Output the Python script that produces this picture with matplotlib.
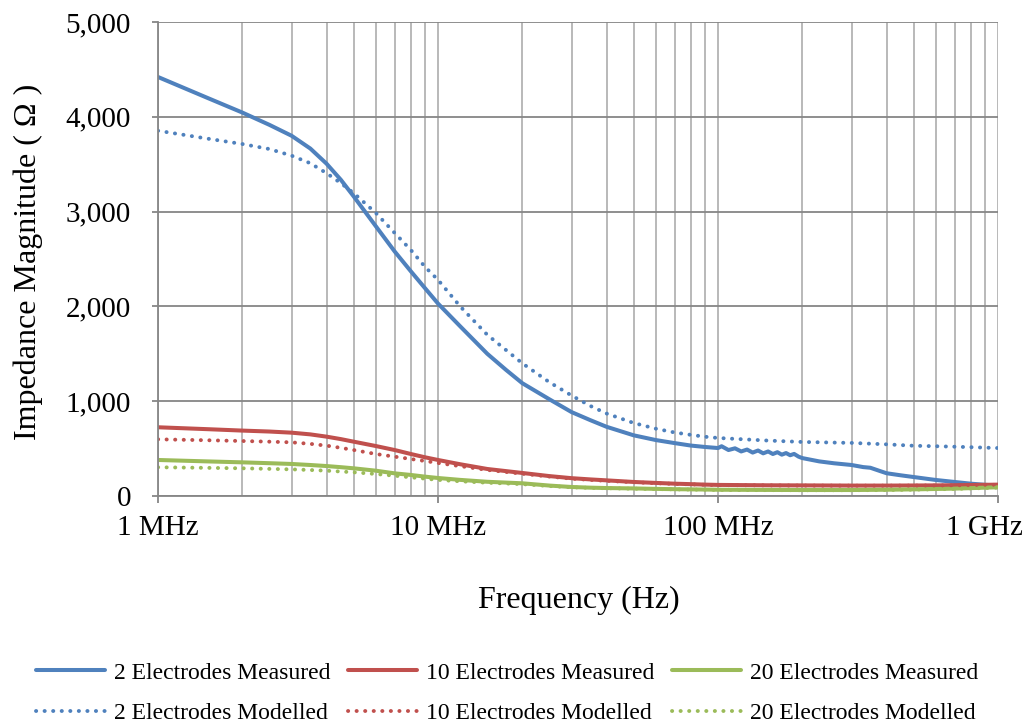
import matplotlib
matplotlib.use("Agg")
import matplotlib.pyplot as plt
from matplotlib.ticker import FuncFormatter, FixedLocator, NullFormatter
from matplotlib.transforms import ScaledTranslation

plt.rcParams['font.family'] = ['Liberation Serif', 'DejaVu Serif']

# frequency grid (MHz) shared by the smooth curves
freq = [1, 1.5, 2, 2.5, 3, 3.5, 4, 4.5, 5, 6, 7, 8, 9, 10, 12, 15, 20, 25, 30, 35,
        40, 50, 60, 70, 80, 90, 100, 150, 200, 300, 400, 500, 600, 700, 800, 900, 1000]

# 2 electrodes measured has a ripple above 100 MHz, so it gets its own grid
freq_2m = [1, 1.5, 2, 2.5, 3, 3.5, 4, 4.5, 5, 6, 7, 8, 9, 10, 12, 15, 17.5, 20, 25, 30, 35,
           40, 50, 60, 70, 80, 90, 100, 103, 109, 115, 121, 127, 133, 139, 145, 151,
           157, 163, 169, 175, 181, 187, 194, 200, 230, 260, 300, 330, 350, 380, 400,
           450, 500, 600, 700, 800, 900, 1000]
z_2_meas = [4420, 4200, 4045, 3915, 3800, 3665, 3505, 3335, 3160, 2845, 2580, 2370, 2190, 2030,
            1790, 1500, 1330, 1190, 1020, 885, 800, 730, 640, 590, 558, 532, 517, 506, 525, 485,
            503, 470, 490, 458, 480, 450, 470, 443, 462, 436, 453, 430, 444, 415, 400, 365,
            345, 327, 305, 298, 262, 240, 218, 200, 169, 148, 130, 118, 110]

z_2_model = [3853, 3770, 3713, 3660, 3590, 3510, 3405, 3300, 3195, 2985, 2775, 2595, 2415, 2280,
             2000, 1700, 1400, 1200, 1060, 950, 870, 770, 710, 670, 645, 625, 612, 585, 570,
             560, 545, 530, 525, 520, 515, 510, 506]

z_10_meas = [725, 705, 690, 680, 668, 650, 626, 600, 573, 527, 485, 443, 408, 380,
             335, 285, 243, 210, 188, 175, 165, 148, 138, 130, 125, 120, 117, 113, 112,
             110, 110, 111, 112, 114, 116, 118, 120]

z_10_model = [598, 588, 580, 573, 566, 550, 531, 508, 485, 443, 415, 390, 369, 348,
              315, 275, 235, 205, 183, 170, 160, 145, 135, 128, 123, 118, 115, 112, 110,
              109, 109, 110, 111, 113, 115, 117, 118]

z_20_meas = [380, 365, 355, 346, 338, 327, 316, 304, 292, 267, 239, 222, 204, 190,
             170, 150, 134, 110, 95, 88, 84, 80, 75, 72, 70, 68, 66, 64, 63,
             63, 66, 70, 74, 78, 83, 88, 92]

z_20_model = [303, 297, 292, 286, 281, 274, 267, 258, 250, 232, 214, 197, 183, 170,
              155, 140, 125, 105, 92, 86, 82, 77, 73, 70, 68, 66, 64, 62, 61,
              61, 63, 67, 71, 75, 80, 84, 88]

blue = '#4F81BD'
red = '#C0504D'
green = '#9BBB59'
dotted = (0, (0.05, 2.15))

fig = plt.figure(figsize=(10.3, 7.28), dpi=100)
ax = fig.add_axes([158 / 1030, 1 - 496 / 728, 840 / 1030, 474 / 728])

hz = lambda f: [v * 1e6 for v in f]

l1, = ax.plot(hz(freq_2m), z_2_meas, color=blue, lw=2.9, solid_capstyle='round', solid_joinstyle='round')
l3, = ax.plot(hz(freq), z_10_meas, color=red, lw=2.9, solid_capstyle='round', solid_joinstyle='round')
l5, = ax.plot(hz(freq), z_20_meas, color=green, lw=2.9, solid_capstyle='round', solid_joinstyle='round')
l2, = ax.plot(hz(freq), z_2_model, color=blue, lw=2.8, ls=dotted, dash_capstyle='round')
l4, = ax.plot(hz(freq), z_10_model, color=red, lw=2.8, ls=dotted, dash_capstyle='round')
l6, = ax.plot(hz(freq), z_20_model, color=green, lw=2.8, ls=dotted, dash_capstyle='round')

ax.set_xscale('log')
ax.set_xlim(1e6, 1e9)
ax.set_ylim(0, 5000)

ax.set_xticks([1e6, 1e7, 1e8, 1e9])
ax.set_xticklabels(['1 MHz', '10 MHz', '100 MHz', '1 GHz'])
minors = [m * 10 ** d for d in range(6, 9) for m in range(2, 10)]
ax.xaxis.set_minor_locator(FixedLocator(minors))
ax.xaxis.set_minor_formatter(NullFormatter())
ax.set_yticks(range(0, 5001, 1000))
ax.yaxis.set_major_formatter(FuncFormatter(lambda v, p: f'{int(v):,}'))

ax.set_axisbelow(True)
ax.grid(which='major', axis='y', color='#868686', lw=1.3)
ax.grid(which='both', axis='x', color='#b3b3b3', lw=1.3)

for side in ['top', 'right']:
    ax.spines[side].set_visible(False)
for side in ['left', 'bottom']:
    ax.spines[side].set_color('#868686')
    ax.spines[side].set_linewidth(1.3)

ax.tick_params(axis='y', which='major', direction='out', length=4.5, width=1.3,
               color='#868686', labelsize=21, pad=15)
ax.tick_params(axis='x', which='major', direction='out', length=5, width=1.3,
               color='#868686', labelsize=21, pad=9)
ax.tick_params(axis='x', which='minor', length=0)

# keep the last frequency label inside the figure
last = ax.get_xticklabels()[-1]
last.set_transform(last.get_transform() + ScaledTranslation(-0.14, 0, fig.dpi_scale_trans))

ax.set_xlabel('Frequency (Hz)', fontsize=23)
ax.xaxis.set_label_coords(0.501, -0.19)
ax.set_ylabel('Impedance Magnitude ( Ω )', fontsize=23)
ax.yaxis.set_label_coords(-0.137, 0.494)

fig.legend([l1, l2, l3, l4, l5, l6],
           ['2 Electrodes Measured', '2 Electrodes Modelled',
            '10 Electrodes Measured', '10 Electrodes Modelled',
            '20 Electrodes Measured', '20 Electrodes Modelled'],
           ncol=3, loc='center', bbox_to_anchor=(0.492, 0.048), frameon=False,
           fontsize=17, handlelength=2.95, handletextpad=0.35, columnspacing=0.75,
           labelspacing=0.8)

fig.savefig('out.png', dpi=100)
